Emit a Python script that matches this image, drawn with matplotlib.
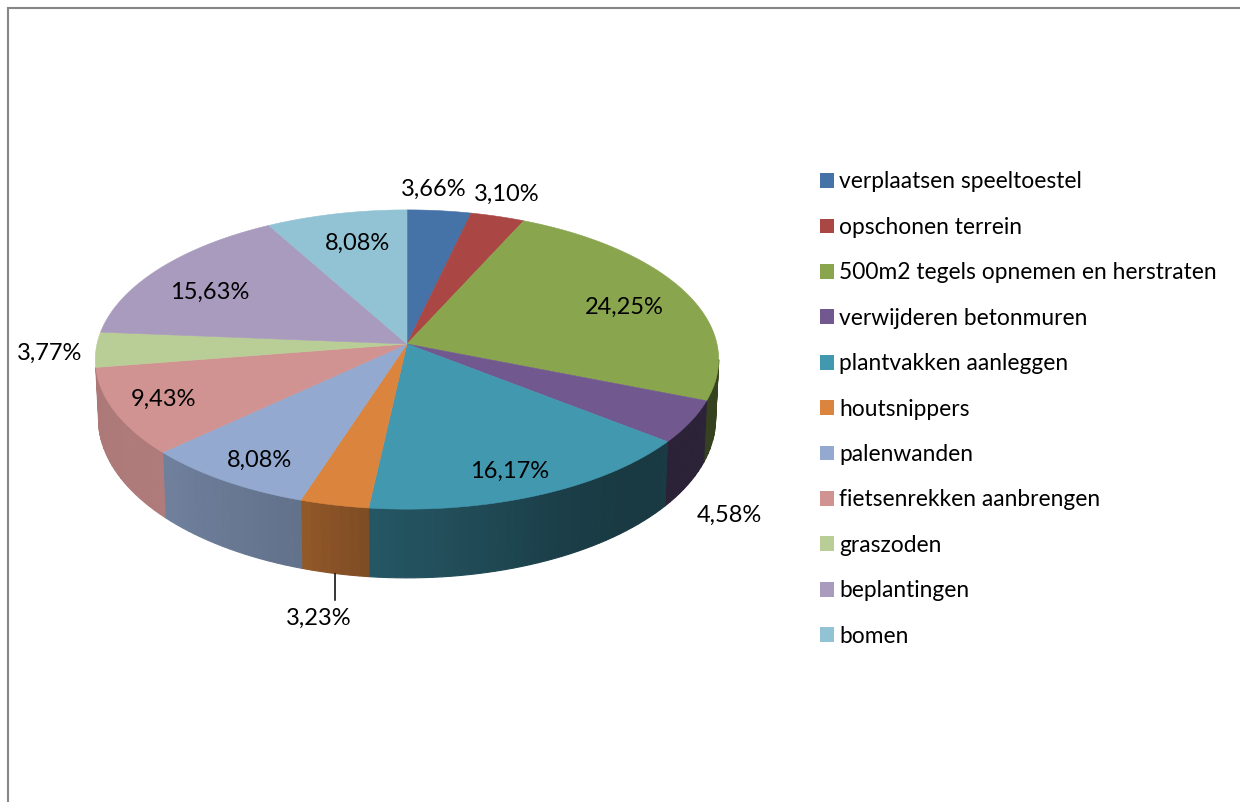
import numpy as np
import matplotlib
matplotlib.use("Agg")
import matplotlib.pyplot as plt
from matplotlib.patches import Patch

categories = ["verplaatsen speeltoestel", "opschonen terrein",
              "500m2 tegels opnemen en herstraten", "verwijderen betonmuren",
              "plantvakken aanleggen", "houtsnippers", "palenwanden",
              "fietsenrekken aanbrengen", "graszoden", "beplantingen", "bomen"]
values = [3.66, 3.10, 24.25, 4.58, 16.17, 3.23, 8.08, 9.43, 3.77, 15.63, 8.08]
colors = ["#4572A7", "#AA4643", "#89A54E", "#71588F", "#4198AF", "#DB843D",
          "#93A9CF", "#D19392", "#B9CD96", "#A99BBD", "#92C3D4"]
label_xy = [(434, 189), (507, 194), (624, 307), (729, 515), (510, 471), (319, 618),
            (259, 460), (163, 399), (50, 353), (210, 292), (357, 243)]

FONT = "Lato"
plt.rcParams["font.family"] = [FONT, "DejaVu Sans"]

CX, CY, A, B, K = 407.0, 344.0, 148.0, 310.0, 0.1037
WALL_D, WALL_SY, WALL_SX = 58.0, 1.065, 0.99
shade_t = [60, 100, 140, 150, 186, 198, 227, 227.2, 262]
shade_f = [0.40, 0.40, 0.38, 0.40, 0.57, 0.67, 0.76, 0.84, 0.82]


def top(theta):
    w = 1 + K * np.cos(theta)
    return CX + B * np.sin(theta) / w, CY - A * np.cos(theta) / w


def bottom(theta):
    w = 1 + K * np.cos(theta)
    return (CX + WALL_SX * B * np.sin(theta) / w,
            CY + WALL_D - WALL_SY * A * np.cos(theta) / w)


def shade(col, f):
    return tuple(c * f for c in matplotlib.colors.to_rgb(col))


fig = plt.figure(figsize=(12.4, 8.02), dpi=100)
ax = fig.add_axes([0, 0, 1, 1])
ax.set_xlim(0, 1240)
ax.set_ylim(802, 0)
ax.axis("off")

# chart frame
ax.plot([8, 8, 1240], [802, 8, 8], color="#868686", lw=1.5, solid_joinstyle="miter")

edges = np.deg2rad(np.concatenate([[0], np.cumsum(values) / np.sum(values) * 360]))
wall_lo, wall_hi = np.deg2rad(96), np.deg2rad(261)

# side wall, in narrow bands so that the shading runs along the rim
for i, col in enumerate(colors):
    a0, a1 = max(edges[i], wall_lo), min(edges[i + 1], wall_hi)
    if a1 <= a0:
        continue
    n = max(1, int(np.degrees(a1 - a0) / 1.5))
    grid = np.linspace(a0, a1, n + 1)
    for t0, t1 in zip(grid[:-1], grid[1:]):
        th = np.linspace(t0, t1, 4)
        xt, yt = top(th)
        xb, yb = bottom(th)
        f = np.interp(np.degrees((t0 + t1) / 2), shade_t, shade_f)
        c = shade(col, f)
        ax.fill(np.r_[xt, xb[::-1]], np.r_[yt, yb[::-1]], color=c, lw=0.8, zorder=2)

# top face
for i, col in enumerate(colors):
    th = np.linspace(edges[i], edges[i + 1], 80)
    x, y = top(th)
    ax.fill(np.r_[CX, x], np.r_[CY, y], color=col, lw=0.4, zorder=3)

# data labels
for v, (lx, ly) in zip(values, label_xy):
    ax.text(lx, ly, f"{v:.2f}%".replace(".", ","), ha="center", va="center",
            fontsize=17, color="black", zorder=5)
ax.plot([335, 335], [574, 600], color="black", lw=1.1, zorder=4)

handles = [Patch(facecolor=c, edgecolor="none") for c in colors]
ax.legend(handles, categories, loc="upper left", bbox_to_anchor=(820, 171.5),
          bbox_transform=ax.transData, frameon=False, fontsize=16.35, borderpad=0,
          borderaxespad=0, handlelength=0.62, handleheight=0.62, handletextpad=0.22,
          labelspacing=1.075, labelcolor="black")

fig.savefig("out.png", dpi=100)
